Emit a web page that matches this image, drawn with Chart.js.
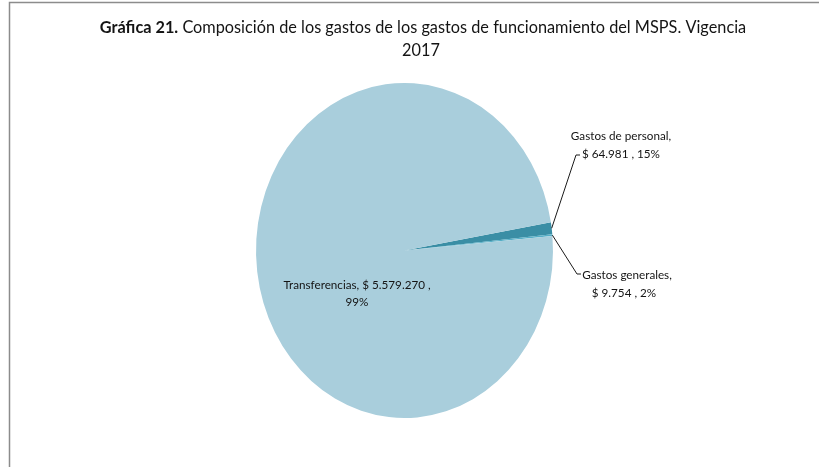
<!DOCTYPE html>
<html><head><meta charset="utf-8">
<script src="https://cdn.jsdelivr.net/npm/chart.js@4/dist/chart.umd.min.js"></script>
<style>html,body{margin:0;padding:0;background:#fff;} #wrap{width:827px;height:467px;position:relative}</style>
</head><body><div id="wrap"><canvas id="c" width="827" height="467"></canvas></div>
<script>
// ---- data ----
const categories = ['Gastos de personal', 'Gastos generales', 'Transferencias'];
const values = [64981, 9754, 5579270];
const valueLabels = ['$ 64.981', '$ 9.754', '$ 5.579.270'];
const percentLabels = ['15%', '2%', '99%'];
const colors = ['#3A8EA5', '#55AEC6', '#A9CEDC'];
const titleBold = 'Gráfica 21.';
const titleRest = ' Composición de los gastos de los gastos de funcionamiento del MSPS. Vigencia';
const titleLine2 = '2017';

const FONT = 'Lato, "Open Sans", sans-serif';
const TEXT = '#141414';
const SX = 148.5 / 167.5; // horizontal squash of the pie (ellipse)

function arcCenter(chart){
  const a = chart.getDatasetMeta(0).data[0];
  return {x: a.x, y: a.y, r: a.outerRadius};
}
function pointOn(chart, i, frac){
  const a = chart.getDatasetMeta(0).data[i];
  const m = (a.startAngle + a.endAngle) / 2;
  return {x: a.x + Math.cos(m) * a.outerRadius * frac * SX, y: a.y + Math.sin(m) * a.outerRadius * frac};
}

const ellipsePlugin = {
  id: 'ellipse',
  beforeDatasetsDraw(chart){
    const c = arcCenter(chart), ctx = chart.ctx;
    ctx.save();
    ctx.translate(c.x, 0); ctx.scale(SX, 1); ctx.translate(-c.x, 0);
  },
  afterDatasetsDraw(chart){ chart.ctx.restore(); }
};

const decorPlugin = {
  id: 'decor',
  afterDraw(chart){
    const ctx = chart.ctx;
    ctx.save();
    // frame
    ctx.strokeStyle = '#8c8c8c'; ctx.lineWidth = 1.5;
    ctx.beginPath(); ctx.moveTo(9.5, 467); ctx.lineTo(9.5, 2.5); ctx.lineTo(819, 2.5); ctx.stroke();
    // title
    ctx.fillStyle = TEXT; ctx.textBaseline = 'middle';
    const bF = 'bold 16.3px ' + FONT, nF = '16.3px ' + FONT;
    ctx.font = bF; const wb = ctx.measureText(titleBold).width;
    ctx.font = nF; const wr = ctx.measureText(titleRest).width;
    const x0 = 423 - (wb + wr) / 2;
    ctx.textAlign = 'left';
    ctx.font = bF; ctx.fillText(titleBold, x0, 28);
    ctx.font = nF; ctx.fillText(titleRest, x0 + wb, 28);
    ctx.textAlign = 'center'; ctx.fillText(titleLine2, 421, 51);

    // data labels
    ctx.font = '11.7px ' + FONT;
    // Transferencias (inside)
    ctx.fillText(categories[2] + ', ' + valueLabels[2] + ' ,', 357, 285);
    ctx.fillText(percentLabels[2], 357, 302);

    ctx.strokeStyle = '#1a1a1a'; ctx.lineWidth = 1;
    // Gastos de personal
    const p0 = pointOn(chart, 0, 1.0);
    ctx.beginPath(); ctx.moveTo(p0.x, p0.y); ctx.lineTo(576, 155); ctx.lineTo(580, 155); ctx.stroke();
    ctx.fillText(categories[0] + ',', 621, 136);
    ctx.fillText(valueLabels[0] + ' , ' + percentLabels[0], 621, 154);
    // Gastos generales
    const p1 = pointOn(chart, 1, 1.0);
    ctx.beginPath(); ctx.moveTo(p1.x, p1.y); ctx.lineTo(577, 274); ctx.lineTo(581, 274); ctx.stroke();
    ctx.fillText(categories[1] + ',', 627, 275);
    ctx.fillText(valueLabels[1] + ' , ' + percentLabels[1], 624, 293);
    ctx.restore();
  }
};

new Chart(document.getElementById('c'), {
  type: 'pie',
  data: {
    labels: categories,
    datasets: [{ data: values, backgroundColor: colors, borderWidth: 0 }]
  },
  options: {
    responsive: false,
    animation: false,
    rotation: 80.3,
    layout: { padding: { top: 83, bottom: 49, left: 200, right: 218 } },
    plugins: { legend: { display: false }, title: { display: false }, tooltip: { enabled: false } }
  },
  plugins: [ellipsePlugin, decorPlugin]
});
</script>
</body></html>
